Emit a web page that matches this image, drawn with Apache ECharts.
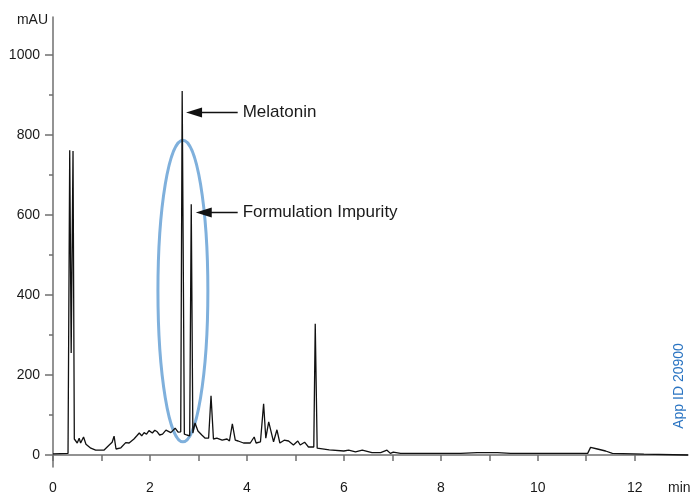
<!DOCTYPE html>
<html lang="en">
<head>
    <meta charset="UTF-8" />
    <title>Melatonin chromatogram</title>
    <script src="https://cdn.jsdelivr.net/npm/echarts@6/dist/echarts.min.js"></script>
    <style>
        html, body { margin: 0; padding: 0; background: #fff; }
        #main { width: 691px; height: 493px; }
    </style>
</head>
<body>
    <div id="main"></div>
<script type="text/javascript">
    // retention time (min) and absorbance (mAU)
    var times = [0, 0.31, 0.345, 0.375, 0.413, 0.44, 0.50, 0.54, 0.57, 0.63, 0.68, 0.78, 0.88, 1.05, 1.16, 1.22, 1.26, 1.30, 1.40, 1.50,
        1.57, 1.67, 1.73, 1.78, 1.83, 1.88, 1.93, 1.98, 2.05, 2.10, 2.15, 2.20, 2.26, 2.33, 2.43, 2.52, 2.58, 2.635, 2.665, 2.71,
        2.76, 2.82, 2.852, 2.885, 2.93, 2.99, 3.07, 3.14, 3.21, 3.26, 3.31, 3.38, 3.49, 3.59, 3.64, 3.70, 3.76, 3.82, 3.93, 4.07,
        4.15, 4.19, 4.28, 4.345, 4.39, 4.45, 4.55, 4.62, 4.68, 4.77, 4.86, 4.96, 5.05, 5.10, 5.19, 5.27, 5.38, 5.41, 5.45, 5.70,
        6.00, 6.10, 6.24, 6.38, 6.58, 6.76, 6.89, 6.96, 7.02, 7.17, 8.41, 8.75, 9.17, 9.44, 11.03, 11.09, 11.23, 11.40, 11.54, 12.19, 13.1];
    var absorbance = [3, 4, 762, 255, 760, 40, 30, 42, 30, 45, 27, 17, 12, 12, 25, 32, 47, 15, 18, 31,
        30, 40, 48, 55, 48, 56, 52, 61, 55, 62, 58, 50, 52, 62, 56, 67, 57, 58, 910, 52,
        50, 48, 627, 55, 80, 60, 50, 42, 42, 148, 40, 42, 37, 40, 35, 78, 37, 35, 30, 30,
        45, 30, 33, 128, 42, 83, 33, 63, 30, 37, 35, 25, 35, 25, 32, 20, 20, 328, 17, 13,
        10, 12, 8, 12, 6, 6, 12, 4, 7, 4, 4, 6, 6, 4, 4, 19, 15, 10, 4, 2, 0];

    var yTicks = [0, 200, 400, 600, 800, 1000];
    var yMinorTicks = [100, 300, 500, 700, 900];
    var xTicks = [0, 1, 2, 3, 4, 5, 6, 7, 8, 9, 10, 11, 12];
    var xLabels = [0, 2, 4, 6, 8, 10, 12];

    // peak call-outs: label, arrow height (mAU), arrow tail / head (min)
    var calloutNames = ['Melatonin', 'Formulation Impurity'];
    var calloutLevel = [856, 606];
    var calloutTail = [3.81, 3.81];
    var calloutHead = [2.91, 3.11];

    // highlight ellipse in data units: centre time, centre mAU, half-width (min), half-height (mAU)
    var ringCenter = [2.68, 410];
    var ringRadius = [0.515, 377];

    var FONT = 'Liberation Sans, Arial, Helvetica, sans-serif';
    var AXIS = '#6f6f6f';

    var chart = echarts.init(document.getElementById('main'));

    var calloutData = calloutNames.map(function (name, i) {
        return [
            { name: name, coord: [calloutTail[i], calloutLevel[i]] },
            { coord: [calloutHead[i], calloutLevel[i]] }
        ];
    });

    chart.setOption({
        animation: false,
        grid: { left: 53, right: 3, top: 17, bottom: 26, outerBoundsMode: 'none', containLabel: false },
        xAxis: {
            type: 'value',
            min: 0,
            max: 13.1,
            axisLine: { show: true, lineStyle: { color: AXIS, width: 1.5 } },
            axisTick: { show: true, customValues: xTicks, length: 6, lineStyle: { color: AXIS, width: 1.5 } },
            axisLabel: { customValues: xLabels, margin: 14, color: '#1a1a1a', fontSize: 14, fontFamily: FONT },
            splitLine: { show: false }
        },
        yAxis: [{
            type: 'value',
            min: -30,
            max: 1095,
            axisLine: { show: true, lineStyle: { color: AXIS, width: 1.5 } },
            axisTick: { show: true, customValues: yTicks, length: 8, lineStyle: { color: AXIS, width: 1.5 } },
            axisLabel: {
                customValues: yTicks, margin: 13, color: '#1a1a1a', fontSize: 14, fontFamily: FONT,
                formatter: function (v) { return String(v); }
            },
            splitLine: { show: false }
        }, {
            type: 'value',
            min: -30,
            max: 1095,
            position: 'left',
            axisLine: { show: false },
            axisTick: { show: true, customValues: yMinorTicks, length: 4, lineStyle: { color: AXIS, width: 1.5 } },
            axisLabel: { show: false },
            splitLine: { show: false }
        }],
        series: [{
            type: 'line',
            data: times.map(function (t, i) { return [t, absorbance[i]]; }),
            showSymbol: false,
            symbol: 'none',
            lineStyle: { color: '#111', width: 1.3 },
            z: 3,
            markLine: {
                silent: true,
                symbol: ['none', 'triangle'],
                symbolSize: [10, 16],
                lineStyle: { color: '#111', width: 1.3, type: 'solid' },
                label: {
                    show: true,
                    position: 'start',
                    distance: 5,
                    formatter: '{b}',
                    color: '#1a1a1a',
                    fontSize: 17,
                    fontFamily: FONT
                },
                data: calloutData
            }
        }]
    });

    // ellipse placed from data units
    var c = chart.convertToPixel({ gridIndex: 0 }, ringCenter);
    var e = chart.convertToPixel({ gridIndex: 0 }, [ringCenter[0] + ringRadius[0], ringCenter[1] + ringRadius[1]]);

    chart.setOption({
        graphic: [{
            type: 'ellipse',
            z: 1,
            shape: { cx: c[0], cy: c[1], rx: Math.abs(e[0] - c[0]), ry: Math.abs(c[1] - e[1]) },
            style: { fill: null, stroke: '#7fb0dc', lineWidth: 3 }
        }, {
            type: 'text',
            x: 48, y: 20,
            style: { text: 'mAU', fill: '#1a1a1a', font: '14px ' + FONT, textAlign: 'right', textVerticalAlign: 'middle' }
        }, {
            type: 'text',
            x: 668, y: 488,
            style: { text: 'min', fill: '#1a1a1a', font: '14px ' + FONT, textAlign: 'left', textVerticalAlign: 'middle' }
        }, {
            type: 'text',
            x: 679, y: 386,
            rotation: Math.PI / 2,
            style: { text: 'App ID 20900', fill: '#2a74c2', font: '14px ' + FONT, textAlign: 'center', textVerticalAlign: 'middle' }
        }]
    });
</script>
</body>
</html>
